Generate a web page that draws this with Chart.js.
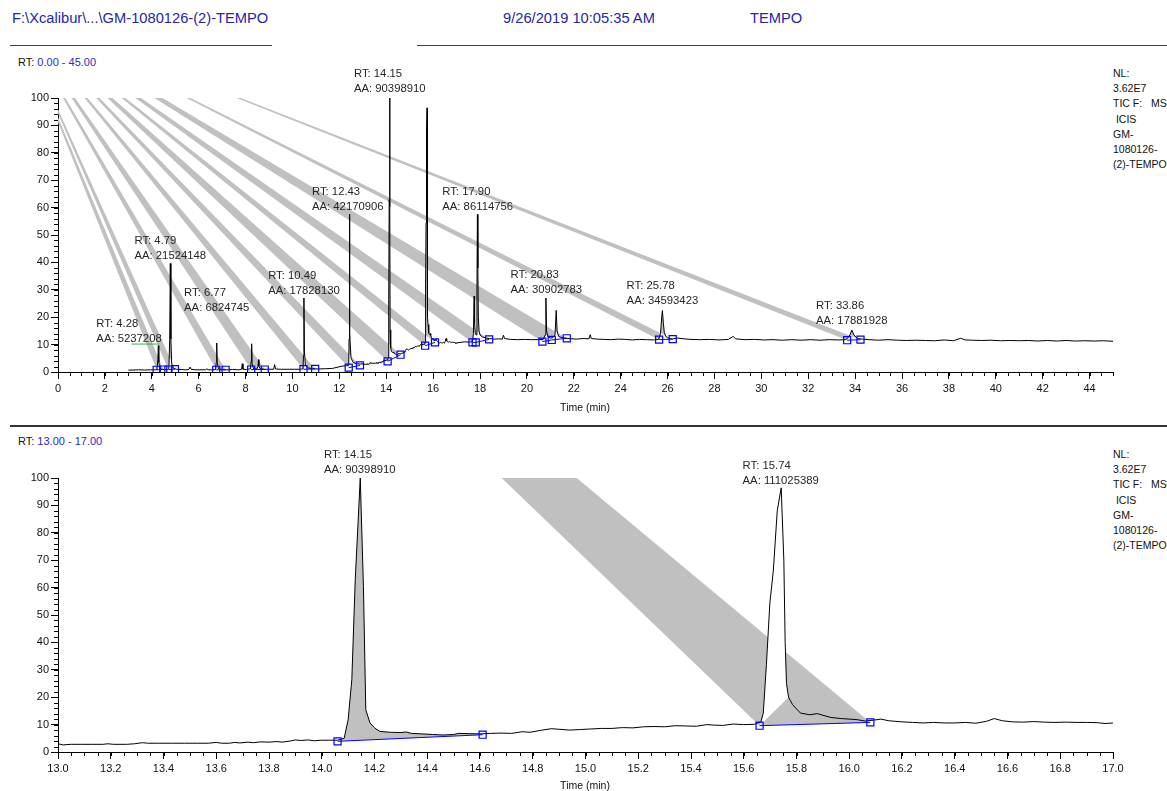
<!DOCTYPE html>
<html>
<head>
    <title>GM-1080126-(2)-TEMPO</title>
    <script src="https://cdn.jsdelivr.net/npm/chart.js"></script>
    <style>
        body { margin: 0; width: 1167px; height: 791px; position: relative; overflow: hidden; background: #fff;
               font-family: 'Liberation Sans', Arial, sans-serif; }
        .t { position: absolute; white-space: pre; color: #111; }
        .hdr { font-size: 14.7px; line-height: 20px; color: #2626a6; }
        .rt { font-size: 11px; line-height: 14px; }
        .rt span { color: #2b2bc8; }
        .side { font-size: 10.5px; line-height: 15.2px; }
        .axt { font-size: 10.5px; line-height: 14px; width: 100px; text-align: center; }
        .rule { position: absolute; background: #444; }
        canvas { position: absolute; left: 0; }
    </style>
</head>
<body>
    <div class="t hdr" style="left:12px;top:8px">F:\Xcalibur\...\GM-1080126-(2)-TEMPO</div>
    <div class="t hdr" style="left:503px;top:8px">9/26/2019 10:05:35 AM</div>
    <div class="t hdr" style="left:750px;top:8px">TEMPO</div>
    <div class="rule" style="left:10px;top:45px;width:262px;height:1px"></div>
    <div class="rule" style="left:417px;top:45px;width:750px;height:1px"></div>

    <div class="t rt" style="left:18px;top:55px">RT: <span>0.00 - 45.00</span></div>
    <div class="t side" style="left:1113px;top:66px">NL:
3.62E7
TIC F:   MS
 ICIS
GM-
1080126-
(2)-TEMPO</div>
    <canvas id="topChart" width="1167" height="358" style="top:60px"></canvas>
    <div class="t axt" style="left:535px;top:400px">Time (min)</div>

    <div class="rule" style="left:10px;top:425px;width:1157px;height:2px;background:#333"></div>

    <div class="t rt" style="left:18px;top:434px">RT: <span>13.00 - 17.00</span></div>
    <div class="t side" style="left:1113px;top:447px">NL:
3.62E7
TIC F:   MS
 ICIS
GM-
1080126-
(2)-TEMPO</div>
    <canvas id="bottomChart" width="1167" height="348" style="top:440px"></canvas>
    <div class="t axt" style="left:535px;top:778px">Time (min)</div>

    <script>
        // TIC trace, [time (min), relative abundance]
        var trace = [
            [3.00,0.7],[3.20,0.7],[3.45,0.8],[3.70,0.7],[3.95,0.8],[4.15,0.8],[4.22,0.9],[4.26,4.5],[4.28,9.6],[4.30,3.5],
            [4.34,1.3],[4.42,1.0],[4.55,0.9],[4.68,0.9],[4.73,1.3],[4.765,12.0],[4.79,39.6],[4.815,12.0],[4.85,3.0],[4.92,1.4],
            [5.05,1.0],[5.25,0.9],[5.45,0.8],[5.58,0.9],[5.63,1.8],[5.68,1.0],[5.85,0.8],[6.05,0.8],[6.30,0.8],[6.35,1.2],
            [6.40,0.8],[6.60,0.8],[6.72,0.9],[6.75,3.5],[6.77,10.6],[6.79,3.5],[6.84,1.2],[6.95,0.9],[7.20,0.8],[7.45,0.9],
            [7.70,0.8],[7.83,1.0],[7.86,3.0],[7.89,1.0],[8.05,0.9],[8.21,1.2],[8.24,4.0],[8.26,10.3],[8.28,3.0],[8.34,1.2],
            [8.48,1.1],[8.53,2.0],[8.55,4.5],[8.57,2.0],[8.62,1.2],[8.80,1.0],[9.00,1.0],[9.20,1.0],[9.24,2.7],[9.28,1.1],
            [9.50,1.0],[9.80,1.0],[10.10,1.0],[10.35,1.0],[10.45,1.2],[10.47,6.0],[10.49,27.0],[10.51,8.0],[10.55,2.5],[10.65,1.5],
            [10.85,1.2],[11.10,1.1],[11.40,1.2],[11.70,1.3],[11.90,1.7],[12.10,2.1],[12.30,2.3],[12.40,2.5],[12.415,12.0],[12.43,57.6],
            [12.45,14.0],[12.50,5.0],[12.60,3.4],[12.75,3.0],[12.90,2.9],
            [13.00,3.0],[13.02,2.6],[13.05,2.8],[13.09,2.8],[13.13,2.8],[13.17,2.8],[13.19,3.0],[13.21,2.8],[13.26,2.8],[13.29,3.0],
            [13.32,3.4],[13.34,3.2],[13.38,3.2],[13.43,3.2],[13.48,3.2],[13.53,3.2],[13.57,3.2],[13.60,3.5],[13.62,3.2],[13.65,3.2],
            [13.67,3.5],[13.69,3.3],[13.72,3.6],[13.74,3.4],[13.77,3.7],[13.80,3.6],[13.83,3.8],[13.85,3.6],[13.88,4.0],[13.90,4.4],
            [13.92,4.2],[13.95,4.4],[13.97,4.1],[14.00,4.3],[14.03,4.3],[14.06,4.3],[14.085,5.0],[14.100,11.8],[14.114,26.4],[14.127,62.9],
            [14.146,100.0],[14.158,60.4],[14.167,15.4],[14.183,10.6],[14.20,8.8],[14.22,7.5],[14.26,7.2],[14.30,7.1],[14.32,7.3],[14.34,6.8],
            [14.38,6.6],[14.42,6.4],[14.46,6.2],[14.50,6.4],[14.52,6.8],[14.56,6.7],[14.60,6.6],[14.64,6.8],[14.68,6.9],[14.72,6.8],
            [14.76,7.4],[14.79,7.2],[14.83,7.9],[14.87,8.5],[14.90,8.3],[14.94,8.0],[14.98,8.2],[15.02,8.4],[15.06,8.6],[15.10,8.6],
            [15.14,8.9],[15.18,8.8],[15.22,9.2],[15.26,9.3],[15.30,9.2],[15.34,9.6],[15.38,9.5],[15.42,9.4],[15.46,10.0],[15.49,9.8],
            [15.52,9.7],[15.56,10.2],[15.60,10.0],[15.64,10.1],[15.665,11.0],[15.674,14.2],[15.686,32.0],[15.699,54.4],[15.712,66.0],[15.727,88.0],
            [15.742,96.4],[15.752,70.0],[15.757,40.0],[15.762,25.0],[15.770,20.0],[15.785,17.3],[15.815,14.2],[15.85,13.6],[15.88,14.0],[15.90,13.4],
            [15.93,12.6],[15.97,12.2],[16.00,12.0],[16.03,11.8],[16.06,11.3],[16.09,11.6],[16.12,12.0],[16.15,11.4],[16.20,11.0],[16.24,10.8],
            [16.28,10.6],[16.32,10.8],[16.36,10.6],[16.40,10.6],[16.44,10.8],[16.48,10.5],[16.52,11.2],[16.55,12.2],[16.58,11.4],[16.62,11.0],
            [16.66,10.9],[16.70,11.1],[16.74,10.9],[16.78,10.8],[16.82,10.9],[16.86,10.8],[16.90,10.8],[16.94,10.7],[16.97,10.4],[17.00,10.6],
            [17.15,10.8],[17.35,11.0],[17.55,10.9],[17.68,11.1],[17.72,14.0],[17.75,27.7],[17.77,18.0],[17.80,14.0],[17.84,13.5],[17.87,30.0],
            [17.89,57.5],[17.91,38.0],[17.93,20.0],[17.96,15.0],[18.00,13.5],[18.10,12.8],[18.25,12.4],[18.40,12.2],[18.60,12.0],[18.80,12.1],
            [18.95,12.0],[19.00,13.4],[19.05,12.2],[19.30,11.9],[19.60,11.8],[19.90,11.9],[20.20,11.8],[20.50,11.8],[20.70,11.9],[20.78,13.5],
            [20.81,27.0],[20.84,15.0],[20.90,12.8],[21.00,12.4],[21.10,12.5],[21.20,13.5],[21.25,22.5],[21.29,15.0],[21.35,13.0],[21.50,12.5],
            [21.80,12.2],[22.10,12.0],[22.40,12.2],[22.65,12.1],[22.70,13.6],[22.75,12.2],[23.00,12.0],[23.30,11.9],[23.60,11.8],[23.90,12.0],
            [24.20,11.9],[24.50,11.7],[24.80,11.9],[25.10,11.8],[25.40,11.7],[25.62,11.9],[25.70,14.0],[25.75,20.0],[25.78,22.4],[25.82,18.0],
            [25.86,14.5],[25.92,13.0],[26.00,12.5],[26.20,12.0],[26.40,12.4],[26.70,12.1],[27.00,11.9],[27.40,11.8],[27.80,11.9],[28.20,11.7],
            [28.60,11.9],[28.80,13.0],[28.90,12.1],[29.30,11.8],[29.70,11.9],[30.10,11.7],[30.50,11.8],[30.90,11.6],[31.30,11.8],[31.70,11.6],
            [32.10,11.8],[32.50,11.6],[32.90,11.8],[33.30,11.7],[33.60,11.8],[33.75,13.0],[33.86,15.3],[33.95,13.5],[34.10,12.2],[34.30,12.0],
            [34.60,11.8],[35.00,11.6],[35.40,11.8],[35.80,11.6],[36.20,11.5],[36.60,11.6],[37.00,11.5],[37.40,11.4],[37.80,11.7],[38.20,11.4],
            [38.50,12.3],[38.70,11.7],[39.00,11.6],[39.40,11.5],[39.80,11.6],[40.20,11.4],[40.60,11.5],[41.00,11.4],[41.40,11.5],[41.80,11.3],
            [42.20,11.5],[42.60,11.3],[43.00,11.5],[43.40,11.3],[43.80,11.4],[44.20,11.3],[44.60,11.4],[45.00,11.2]
        ];

        // integration baselines (blue squares), one group per integrated peak
        var baselines = [
            [[4.21,0.8],[4.49,0.9]],
            [[4.71,0.9],[4.99,1.0]],
            [[6.75,0.8],[7.15,0.8]],
            [[8.24,0.9],[8.82,0.9]],
            [[10.47,1.0],[10.97,1.1]],
            [[12.40,1.6],[12.88,2.4]],
            [[14.06,3.9],[14.61,6.3]],
            [[15.66,9.6],[16.08,10.8]],
            [[17.68,10.8],[17.82,10.8],[18.39,11.9]],
            [[20.66,11.1],[21.06,11.7],[21.70,12.3]],
            [[25.64,11.8],[26.22,12.0]],
            [[33.66,11.6],[34.23,11.8]]
        ];

        // point the grey integration bands run to (off the plot, upper left)
        var bandApexTop = [-1.92, 132.4];
        var bandApexBottom = [12.829, 271.3];

        // peak labels
        var topLabelRT = [4.28, 4.79, 6.77, 10.49, 12.43, 14.15, 17.90, 20.83, 25.78, 33.86];
        var topLabelAA = ['5237208', '21524148', '6824745', '17828130', '42170906', '90398910', '86114756', '30902783', '34593423', '17881928'];
        var topLabelX = [3.03, 4.79, 6.77, 10.49, 12.36, 14.15, 17.90, 20.83, 25.78, 33.86];
        var topLabelY = [12.1, 42.4, 23.4, 29.6, 60.2, 103.2, 60.2, 29.9, 25.9, 18.6];
        var bottomLabelRT = [14.15, 15.74];
        var bottomLabelAA = ['90398910', '111025389'];
        var bottomLabelX = [14.144, 15.74];
        var bottomLabelY = [103.0, 99.0];

        // green mark under the 4.28 label
        var greenMark = [[3.14, 10.2], [4.28, 10.2]];

        // tick labels
        var topXTicks = [0,2,4,6,8,10,12,14,16,18,20,22,24,26,28,30,32,34,36,38,40,42,44];
        var bottomXTicks = [13.0,13.2,13.4,13.6,13.8,14.0,14.2,14.4,14.6,14.8,15.0,15.2,15.4,15.6,15.8,16.0,16.2,16.4,16.6,16.8,17.0];
        var yTicks = [0,10,20,30,40,50,60,70,80,90,100];

        Chart.defaults.font.family = "'Liberation Sans', Arial, sans-serif";

        function pt(p) { return { x: p[0], y: p[1] }; }

        function traceBetween(t0, t1) {
            return trace.filter(function (p) { return p[0] > t0 && p[0] < t1; }).map(pt);
        }

        function baselinePoints() {
            var out = [];
            baselines.forEach(function (g, i) {
                if (i > 0) out.push({ x: (baselines[i - 1][baselines[i - 1].length - 1][0] + g[0][0]) / 2, y: null });
                g.forEach(function (p) { out.push(pt(p)); });
            });
            return out;
        }

        function shapeSet(points, color, order) {
            return {
                data: points, fill: 'shape', backgroundColor: color,
                borderColor: 'rgba(0,0,0,0)', borderWidth: 0, pointRadius: 0, order: order
            };
        }

        var minorTicks = {
            id: 'minorTicks',
            afterDraw: function (chart, args, opts) {
                var ctx = chart.ctx, x = chart.scales.x, y = chart.scales.y;
                ctx.save();
                ctx.strokeStyle = '#000';
                ctx.lineWidth = 1;
                ctx.beginPath();
                var nx = Math.round((x.max - x.min) / opts.xStep);
                for (var i = 0; i <= nx; i++) {
                    var px = Math.round(x.getPixelForValue(x.min + i * opts.xStep)) + 0.5;
                    ctx.moveTo(px, y.bottom);
                    ctx.lineTo(px, y.bottom + 4);
                }
                var ny = Math.round((y.max - y.min) / opts.yStep);
                for (var j = 0; j <= ny; j++) {
                    var py = Math.round(y.getPixelForValue(y.min + j * opts.yStep)) + 0.5;
                    ctx.moveTo(x.left - 4, py);
                    ctx.lineTo(x.left, py);
                }
                ctx.stroke();
                ctx.restore();
            }
        };

        var peakLabels = {
            id: 'peakLabels',
            afterDatasetsDraw: function (chart, args, opts) {
                var ctx = chart.ctx, x = chart.scales.x, y = chart.scales.y;
                ctx.save();
                ctx.font = "11.3px 'Liberation Sans', Arial, sans-serif";
                ctx.fillStyle = '#262626';
                ctx.textBaseline = 'middle';
                opts.rt.forEach(function (rt, i) {
                    var l1 = 'RT: ' + rt.toFixed(2);
                    var l2 = 'AA: ' + opts.aa[i];
                    var w = Math.max(ctx.measureText(l1).width, ctx.measureText(l2).width);
                    var cx = x.getPixelForValue(opts.at[i]);
                    var cy = y.getPixelForValue(opts.lv[i]);
                    ctx.fillText(l1, cx - w / 2, cy - 15);
                    ctx.fillText(l2, cx - w / 2, cy);
                });
                ctx.restore();
            }
        };

        function axes(xMin, xMax, xTicks, xFmt, xAxisHeight) {
            var tickFont = { size: 11 };
            return {
                x: {
                    type: 'linear', min: xMin, max: xMax,
                    afterBuildTicks: function (s) { s.ticks = xTicks.map(function (v) { return { value: v }; }); },
                    afterFit: function (s) { s.height = xAxisHeight; },
                    grid: { drawOnChartArea: false, tickLength: 7, color: '#000' },
                    border: { color: '#000' },
                    ticks: { color: '#111', font: tickFont, padding: 3, maxRotation: 0, autoSkip: false, callback: xFmt }
                },
                y: {
                    min: 0, max: 100,
                    afterBuildTicks: function (s) { s.ticks = yTicks.map(function (v) { return { value: v }; }); },
                    afterFit: function (s) { s.width = 58; },
                    grid: { drawOnChartArea: false, tickLength: 7, color: '#000' },
                    border: { color: '#000' },
                    ticks: { color: '#111', font: tickFont, padding: 2 }
                }
            };
        }

        function baseOptions(scales, labels, xStep) {
            return {
                responsive: false, animation: false, devicePixelRatio: 1,
                layout: { padding: { left: 0, right: 54, top: 38, bottom: 0 } },
                elements: { point: { radius: 0 }, line: { tension: 0 } },
                plugins: {
                    legend: { display: false }, tooltip: { enabled: false },
                    minorTicks: { xStep: xStep, yStep: 2 },
                    peakLabels: labels
                },
                scales: scales
            };
        }

        var traceSet = {
            data: trace.map(pt), borderColor: '#000', borderWidth: 1, pointRadius: 0, fill: false, order: 1
        };
        var baselineSet = {
            data: baselinePoints(), borderColor: '#0000ff', borderWidth: 1, fill: false,
            pointStyle: 'rect', pointRadius: 5, pointBorderColor: '#0000ff', pointBorderWidth: 1.2,
            pointBackgroundColor: 'rgba(0,0,0,0)', order: 0
        };

        // top chart: every integrated peak gets its grey band
        var topSets = [traceSet, baselineSet, {
            data: greenMark.map(pt), borderColor: '#3cb043', borderWidth: 1, pointRadius: 0, fill: false, order: 2
        }];
        baselines.forEach(function (g) {
            var a = g[0], b = g[g.length - 1];
            var poly = [pt(bandApexTop), pt(a)].concat(traceBetween(a[0], b[0]), [pt(b)]);
            topSets.push(shapeSet(poly, '#c0c0c0', 5));
        });

        new Chart(document.getElementById('topChart'), {
            type: 'line',
            data: { datasets: topSets },
            options: baseOptions(
                axes(0, 45, topXTicks, function (v) { return String(v); }, 46),
                { rt: topLabelRT, aa: topLabelAA, at: topLabelX, lv: topLabelY }, 0.5),
            plugins: [minorTicks, peakLabels]
        });

        // bottom chart: 14.15 filled normally, 15.74 drawn with its band
        var p14 = baselines[6], p15 = baselines[7];
        var bottomSets = [
            Object.assign({}, traceSet, { data: trace.map(pt) }),
            Object.assign({}, baselineSet, { data: baselinePoints() }),
            shapeSet([pt(p14[0])].concat(traceBetween(p14[0][0], p14[1][0]), [pt(p14[1])]), '#c0c0c0', 5),
            shapeSet([pt(bandApexBottom), pt(p15[0]), pt(p15[1])], '#c0c0c0', 5),
            shapeSet([pt(p15[0])].concat(traceBetween(p15[0][0], 15.775)), '#ffffff', 3)
        ];

        new Chart(document.getElementById('bottomChart'), {
            type: 'line',
            data: { datasets: bottomSets },
            options: baseOptions(
                axes(13, 17, bottomXTicks, function (v) { return v.toFixed(1); }, 36),
                { rt: bottomLabelRT, aa: bottomLabelAA, at: bottomLabelX, lv: bottomLabelY }, 0.05),
            plugins: [minorTicks, peakLabels]
        });
    </script>
</body>
</html>
